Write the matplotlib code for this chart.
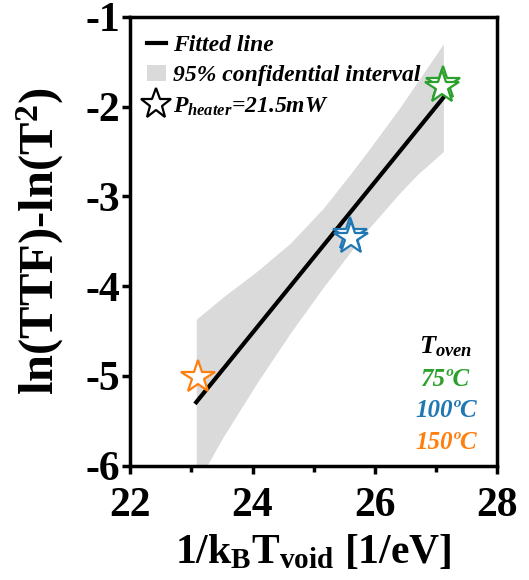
import matplotlib.pyplot as plt
from matplotlib.lines import Line2D
from matplotlib.patches import Patch

plt.rcParams['font.family'] = 'Liberation Serif'
plt.rcParams['font.weight'] = 'bold'
plt.rcParams['axes.labelweight'] = 'bold'
plt.rcParams['axes.unicode_minus'] = False
plt.rcParams['mathtext.fontset'] = 'custom'
plt.rcParams['mathtext.rm'] = 'Liberation Serif:bold'
plt.rcParams['mathtext.it'] = 'Liberation Serif:bold:italic'
plt.rcParams['mathtext.bf'] = 'Liberation Serif:bold'

# measured points (1/kT_void, ln(TTF)-ln(T^2)) per oven temperature
x_150 = [23.11]
y_150 = [-5.01]
x_100 = [25.59, 25.61]
y_100 = [-3.42, -3.46]
x_75 = [27.12, 27.10]
y_75 = [-1.74, -1.78]

# fitted line
fit_x = [23.08, 27.12]
fit_slope = 0.84
fit_icpt = -24.68

# 95% confidence band edges
band_x = [23.08, 23.52, 24.08, 24.62, 25.16, 25.60, 25.87, 26.41, 26.69, 27.12]
band_hi = [-4.37, -4.12, -3.83, -3.52, -3.13, -2.75, -2.51, -2.01, -1.73, -1.30]
band_lo = [-6.21, -5.68, -5.07, -4.52, -4.01, -3.62, -3.38, -2.96, -2.76, -2.50]

oven_labels = ['75ºC', '100ºC', '150ºC']
oven_colors = ['#2ca02c', '#1f77b4', '#ff7f0e']

fig = plt.figure(figsize=(5.29, 5.8), dpi=100)
ax = fig.add_axes([0.246, 0.197, 0.694, 0.774])

ax.fill_between(band_x, band_lo, band_hi, color='#dadada', lw=0, zorder=1)
fit_y = [fit_slope * v + fit_icpt for v in fit_x]
ax.plot(fit_x, fit_y, color='black', lw=3, zorder=2)

star = dict(marker='*', ms=25, mfc='white', mew=1.6, ls='none', zorder=3)
ax.plot(x_150, y_150, mec=oven_colors[2], **star)
ax.plot(x_100, y_100, mec=oven_colors[1], **star)
ax.plot(x_75, y_75, mec=oven_colors[0], **star)

ax.set_xlim(22, 28)
ax.set_ylim(-6, -1)
ax.set_xticks([22, 24, 26, 28])
ax.set_xticks([23, 25, 27], minor=True)
ax.set_yticks([-6, -5, -4, -3, -2, -1])
ax.tick_params(axis='both', which='major', direction='out', length=6, width=2.5,
               labelsize=30)
ax.tick_params(axis='x', which='major', pad=9)
ax.tick_params(axis='y', which='major', pad=1)
ax.tick_params(axis='x', which='minor', direction='out', length=4, width=2.5)
for s in ax.spines.values():
    s.set_linewidth(2.5)

ax.set_xlabel('1/k$_\\mathrm{B}$T$_\\mathrm{void}$ [1/eV]', fontsize=30, labelpad=6)
ax.set_ylabel('ln(TTF)-ln(T$^\\mathrm{2}$)', fontsize=35, labelpad=14)

handles = [
    Line2D([], [], color='black', lw=3),
    Patch(facecolor='#dadada', edgecolor='none'),
    Line2D([], [], marker='*', ms=23, mfc='white', mec='black', mew=1.6, ls='none'),
]
labels = ['Fitted line', '95% confidential interval', '$P_{heater}$=21.5mW']
ax.legend(handles, labels, loc='upper left', frameon=False, handlelength=0.8,
          handletextpad=0.3, labelspacing=0.38, borderaxespad=0.3,
          bbox_to_anchor=(0.0, 0.998),
          prop={'family': 'Liberation Serif', 'weight': 'bold', 'style': 'italic', 'size': 17})

ax.text(0.86, 0.265, '$T_{oven}$', transform=ax.transAxes, ha='center', va='center',
        fontsize=19)
for i, (lab, c) in enumerate(zip(oven_labels, oven_colors)):
    ax.text(0.86, 0.192 - i * 0.07, lab, transform=ax.transAxes, ha='center', va='center',
            fontsize=18, color=c, style='italic', weight='bold')

fig.savefig('out.png', dpi=100)
